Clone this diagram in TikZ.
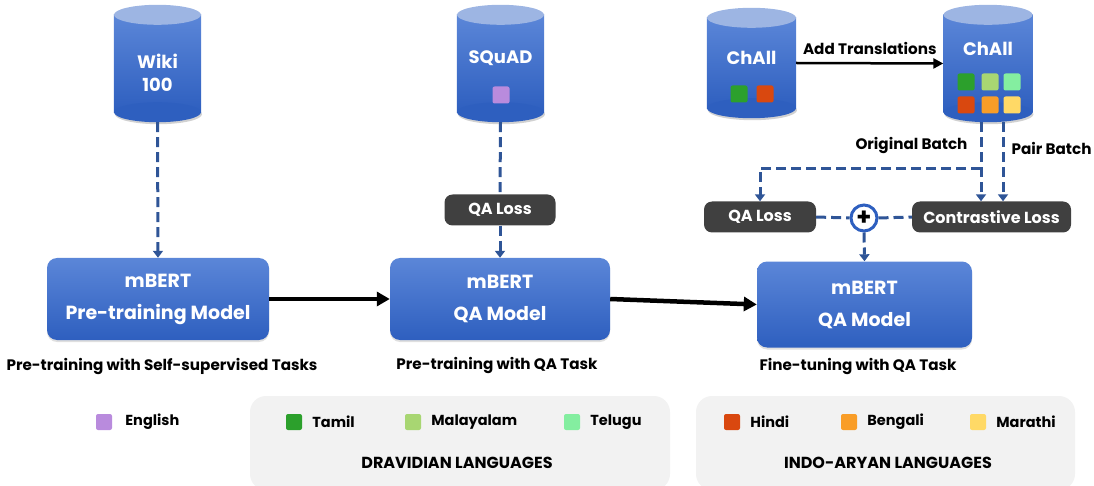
\documentclass[tikz,border=0pt]{standalone}
\usepackage{fontspec}
\setmainfont{Poppins}
\usetikzlibrary{arrows.meta,shadows,calc,positioning}

\definecolor{dbTopFace}{HTML}{9DB5E3}
\definecolor{boxTop}{HTML}{5B86D8}
\definecolor{boxBottom}{HTML}{2E5FBF}
\definecolor{flowBlue}{HTML}{2F5597}
\definecolor{lossGray}{HTML}{404040}
\definecolor{panelGray}{HTML}{F2F2F2}
\definecolor{cEnglish}{HTML}{B98BDD}
\definecolor{cTamil}{HTML}{2CA02C}
\definecolor{cMalayalam}{HTML}{A8D672}
\definecolor{cTelugu}{HTML}{84EEA0}
\definecolor{cHindi}{HTML}{D9480F}
\definecolor{cBengali}{HTML}{F99D27}
\definecolor{cMarathi}{HTML}{FFD966}

% database cylinder round a named box: #1 name, #2 half width
\newcommand{\drawdb}[2]{%
  \fill[black, opacity=0.18] ($(#1.south)+(1,-8)$) ellipse [x radius=#2pt, y radius=10pt];
  \shade[top color=boxTop, bottom color=boxBottom] ($(#1.north west)+(0,10)$) rectangle ($(#1.south east)+(0,-10)$);
  \fill[boxBottom] ($(#1.south)+(0,-10)$) ellipse [x radius=#2pt, y radius=10pt];
  \fill[dbTopFace] ($(#1.north)+(0,10)$) ellipse [x radius=#2pt, y radius=10pt];
}

\tikzset{
  database/.style={rectangle, inner sep=0pt, minimum width=87pt, minimum height=117pt},
  dbtext/.style={text=white, align=center, font=\fontsize{18}{23}\selectfont\bfseries},
  model/.style={rectangle, rounded corners=10pt, top color=boxTop, bottom color=boxBottom,
    minimum width=220pt, minimum height=82pt, align=center, text=white,
    font=\fontsize{19}{32}\selectfont\bfseries,
    drop shadow={opacity=0.25, shadow xshift=0pt, shadow yshift=-2pt}},
  loss/.style={rectangle, rounded corners=8pt, fill=lossGray, text=white,
    minimum height=31pt, font=\fontsize{16}{18}\selectfont\bfseries},
  flowline/.style={draw=flowBlue, line width=3pt, dash pattern=on 10pt off 5pt},
  flow/.style={flowline, -{Triangle[width=10pt,length=7pt]}},
  push/.style={black, line width=4.5pt, -{Triangle[width=14pt,length=13pt]}},
  caption/.style={font=\fontsize{15.2}{17}\selectfont\bfseries},
  langsq/.style={rounded corners=2pt, minimum size=16pt, inner sep=0pt},
  langtext/.style={font=\fontsize{14.5}{16}\selectfont\bfseries, inner sep=1pt},
}

\begin{document}
\begin{tikzpicture}[x=1pt, y=-1pt]
\useasboundingbox (0,0) rectangle (1094,486);

% language panels
\fill[panelGray, rounded corners=16pt] (250,396) rectangle (670,490);
\fill[panelGray, rounded corners=16pt] (696,396) rectangle (1075,490);

% data sources
\node[database] (wiki) at (157.5,63.5) {};
\node[database] (squad) at (500.5,63.5) {};
\node[database, minimum width=89pt, minimum height=110pt] (chaiOrig) at (751.5,63) {};
\node[database, minimum width=89pt] (chaiAug) at (988,63.5) {};
\drawdb{wiki}{43.5}
\drawdb{squad}{43.5}
\drawdb{chaiOrig}{44.5}
\drawdb{chaiAug}{44.5}
\node[dbtext] (wikiText) at (157.5,72.5) {Wiki\\100};
\node[dbtext] (squadText) at (500.5,58) {SQuAD};
\node[langsq, fill=cEnglish, minimum size=17pt] (squadEn) at (501,95) {};
\node[dbtext] (chaiOrigText) at (751.5,58) {ChAll};
\node[langsq, fill=cTamil, minimum size=17pt] (origTa) at (739,94) {};
\node[langsq, fill=cHindi, minimum size=17pt] (origHi) at (765,94) {};
\node[dbtext] (chaiAugText) at (988,49) {ChAll};
\node[langsq, fill=cTamil, minimum size=17pt] (augTa) at (966,82) {};
\node[langsq, fill=cMalayalam, minimum size=17pt] (augMl) at (990,82) {};
\node[langsq, fill=cTelugu, minimum size=17pt] (augTe) at (1012,82) {};
\node[langsq, fill=cHindi, minimum size=17pt] (augHi) at (966,105) {};
\node[langsq, fill=cBengali, minimum size=17pt] (augBn) at (990,105) {};
\node[langsq, fill=cMarathi, minimum size=17pt] (augMr) at (1012,105) {};

% losses
\node[loss, minimum width=111pt] (lossPre) at (500,210) {QA Loss};
\node[loss, minimum width=112pt] (qaLoss) at (760,217) {QA Loss};
\node[loss, minimum width=159pt] (conLoss) at (991.5,217) {Contrastive Loss};
\node[circle, draw=boxBottom, fill=white, line width=3pt, minimum size=26pt, inner sep=0pt,
  font=\fontsize{24}{24}\selectfont\bfseries] (plus) at (864,218) {+};

% models
\node[model, minimum width=222pt] (bertPre) at (158,299) {mBERT\\Pre-training Model};
\node[model] (bertQA) at (500,299) {mBERT\\QA Model};
\node[model, minimum width=215pt, minimum height=86pt] (bertFT) at (864.5,304.5) {mBERT\\QA Model};

\node[caption] (capPre) at (162,367) {Pre-training with Self-supervised Tasks};
\node[caption] (capQA) at (497,366) {Pre-training with QA Task};
\node[caption] (capFT) at (858,367) {Fine-tuning with QA Task};

% connectors
\draw[flow] (wiki.south) -- (bertPre.north);
\draw[flowline] (squad.south) -- (lossPre.north);
\draw[flow] (lossPre.south) -- (bertQA.north);
\draw[push, line width=2.5pt, -{Triangle[width=10pt,length=10pt]}] (chaiOrig.east) -- (chaiAug.west)
  node[midway, above=4pt, caption] (addLbl) {Add Translations};
\draw[flow] ($(chaiAug.south)+(-7,0)$) -- ($(conLoss.north)+(-10.5,0)$);
\draw[flow] ($(chaiAug.south)+(15,0)$) -- ($(conLoss.north)+(11.5,0)$);
\draw[flow] ($(chaiAug.south)+(-7,46)$) -| (qaLoss.north);
\node[caption, anchor=east] (origLbl) at (971,146) {Original Batch};
\node[caption, anchor=west] (pairLbl) at (1008,148) {Pair Batch};
\draw[flowline] (qaLoss.east) -- (plus.west);
\draw[flowline] (plus.east) -- (conLoss.west);
\draw[flow] (plus.south) -- (bertFT.north);
\draw[push] (bertPre.east) -- (bertQA.west);
\draw[push] (bertQA.east) -- (bertFT.west);

% legend
\node[langsq, fill=cEnglish] (enSq) at (104,422) {};
\node[langtext, right=12pt of enSq] (enText) {English};
\node[langsq, fill=cTamil] (taSq) at (294,422) {};
\node[langtext, right=9pt of taSq] (taText) {Tamil};
\node[langsq, fill=cMalayalam] (mlSq) at (413,422) {};
\node[langtext, right=9pt of mlSq] (mlText) {Malayalam};
\node[langsq, fill=cTelugu] (teSq) at (572,422) {};
\node[langtext, right=9pt of teSq] (teText) {Telugu};
\node[langsq, fill=cHindi] (hiSq) at (732,422) {};
\node[langtext, right=9pt of hiSq] (hiText) {Hindi};
\node[langsq, fill=cBengali] (bnSq) at (849,422) {};
\node[langtext, right=9pt of bnSq] (bnText) {Bengali};
\node[langsq, fill=cMarathi] (mrSq) at (978,422) {};
\node[langtext, right=9pt of mrSq] (mrText) {Marathi};
\node[langtext, font=\fontsize{16}{18}\selectfont\bfseries] (dravLbl) at (457,463) {DRAVIDIAN LANGUAGES};
\node[langtext, font=\fontsize{16}{18}\selectfont\bfseries] (indoLbl) at (888,463) {INDO-ARYAN LANGUAGES};
\end{tikzpicture}
\end{document}
